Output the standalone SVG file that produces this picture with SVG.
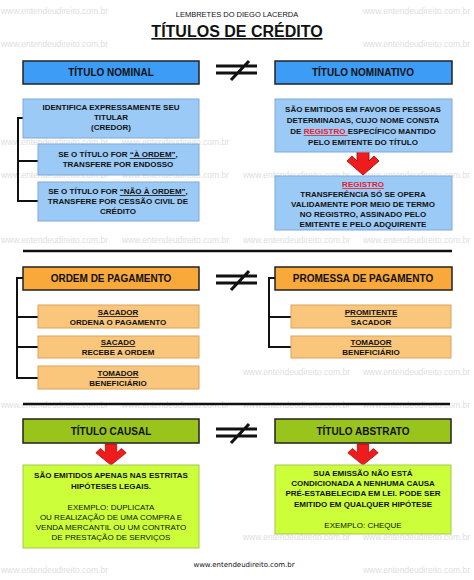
<svg xmlns="http://www.w3.org/2000/svg" width="474" height="580" viewBox="0 0 474 580">
<style>
text{font-family:"Liberation Sans",Arial,sans-serif;}
.wm{font-size:8.5px;fill:#dedede;}
.hb{fill:#3d9cf6;stroke:#222;stroke-width:1.5;}
.lb{fill:#9ccaf7;stroke:#7fa9d8;stroke-width:1;}
.ho{fill:#f9a83a;stroke:#222;stroke-width:1.5;}
.lo{fill:#f9c67c;stroke:#d9a55a;stroke-width:1;}
.hg{fill:#99c41c;stroke:#222;stroke-width:1.5;}
.lg{fill:#ccff3a;stroke:#a8c850;stroke-width:1;}
.ht{font-size:10px;font-weight:bold;fill:#111;text-anchor:middle;}
.bt{font-size:8px;font-weight:bold;fill:#111;text-anchor:middle;}
.nt{font-size:8px;fill:#111;text-anchor:middle;}
.u{text-decoration:underline;}
.red{fill:#e3202a;}
.br{fill:none;stroke:#111;stroke-width:2;}
.sep{stroke:#111;stroke-width:2.5;}
.neq{stroke:#111;stroke-width:3;fill:none;}
.arr{fill:#ee1c1c;stroke:#a00;stroke-width:0.8;}
</style>
<defs>
<polygon id="arrow" points="-6,0 6,0 6,10 11,5 16,10 0,24 -16,10 -11,5 -6,10"/>
</defs>
<g id="watermark">
<text class="wm" x="1" y="14" textLength="107" lengthAdjust="spacingAndGlyphs">www.entendeudireito.com.br</text>
<text class="wm" x="363" y="14" textLength="107" lengthAdjust="spacingAndGlyphs">www.entendeudireito.com.br</text>
<text class="wm" x="1" y="47" textLength="107" lengthAdjust="spacingAndGlyphs">www.entendeudireito.com.br</text>
<text class="wm" x="363" y="47" textLength="107" lengthAdjust="spacingAndGlyphs">www.entendeudireito.com.br</text>
<text class="wm" x="1" y="145" textLength="107" lengthAdjust="spacingAndGlyphs">www.entendeudireito.com.br</text>
<text class="wm" x="122" y="145" textLength="107" lengthAdjust="spacingAndGlyphs">www.entendeudireito.com.br</text>
<text class="wm" x="1" y="178" textLength="107" lengthAdjust="spacingAndGlyphs">www.entendeudireito.com.br</text>
<text class="wm" x="122" y="178" textLength="107" lengthAdjust="spacingAndGlyphs">www.entendeudireito.com.br</text>
<text class="wm" x="243" y="178" textLength="107" lengthAdjust="spacingAndGlyphs">www.entendeudireito.com.br</text>
<text class="wm" x="363" y="178" textLength="107" lengthAdjust="spacingAndGlyphs">www.entendeudireito.com.br</text>
<text class="wm" x="1" y="243" textLength="107" lengthAdjust="spacingAndGlyphs">www.entendeudireito.com.br</text>
<text class="wm" x="122" y="243" textLength="107" lengthAdjust="spacingAndGlyphs">www.entendeudireito.com.br</text>
<text class="wm" x="243" y="243" textLength="107" lengthAdjust="spacingAndGlyphs">www.entendeudireito.com.br</text>
<text class="wm" x="363" y="243" textLength="107" lengthAdjust="spacingAndGlyphs">www.entendeudireito.com.br</text>
<text class="wm" x="243" y="375" textLength="107" lengthAdjust="spacingAndGlyphs">www.entendeudireito.com.br</text>
<text class="wm" x="363" y="375" textLength="107" lengthAdjust="spacingAndGlyphs">www.entendeudireito.com.br</text>
<text class="wm" x="1" y="408" textLength="107" lengthAdjust="spacingAndGlyphs">www.entendeudireito.com.br</text>
<text class="wm" x="122" y="408" textLength="107" lengthAdjust="spacingAndGlyphs">www.entendeudireito.com.br</text>
<text class="wm" x="243" y="408" textLength="107" lengthAdjust="spacingAndGlyphs">www.entendeudireito.com.br</text>
<text class="wm" x="363" y="408" textLength="107" lengthAdjust="spacingAndGlyphs">www.entendeudireito.com.br</text>
<text class="wm" x="243" y="540" textLength="107" lengthAdjust="spacingAndGlyphs">www.entendeudireito.com.br</text>
<text class="wm" x="363" y="540" textLength="107" lengthAdjust="spacingAndGlyphs">www.entendeudireito.com.br</text>
<text class="wm" x="1" y="573" textLength="107" lengthAdjust="spacingAndGlyphs">www.entendeudireito.com.br</text>
<text class="wm" x="363" y="573" textLength="107" lengthAdjust="spacingAndGlyphs">www.entendeudireito.com.br</text>
</g>
<g id="title">
<text x="237" y="17" style="font-size:7.5px;fill:#111;text-anchor:middle;">LEMBRETES DO DIEGO LACERDA</text>
<text x="237" y="37" class="u" style="font-size:16px;font-weight:bold;fill:#111;text-anchor:middle;">TÍTULOS DE CRÉDITO</text>
</g>
<g id="connectors">
<polyline class="br" points="23,118 18,118 18,201 38,201"/>
<line class="br" x1="18" y1="161" x2="38" y2="161"/>
<polyline class="br" points="23,278 17,278 17,378 38,378"/>
<line class="br" x1="17" y1="317" x2="38" y2="317"/>
<line class="br" x1="17" y1="347" x2="38" y2="347"/>
<polyline class="br" points="275,278 269,278 269,347 291,347"/>
<line class="br" x1="269" y1="317" x2="291" y2="317"/>
<line class="sep" x1="23" y1="251" x2="452" y2="251"/>
<line class="sep" x1="23" y1="404" x2="450" y2="404"/>
<use href="#arrow" class="arr" transform="translate(363,151)"/>
<use href="#arrow" class="arr" transform="translate(111,444) scale(0.95,0.88)"/>
<use href="#arrow" class="arr" transform="translate(363,444) scale(0.95,0.88)"/>
</g>
<g id="neq1"><path class="neq" d="M216,66H257M216,73H257M231,80L249,61"/></g>
<g id="neq2"><path class="neq" d="M216,276H257M216,283H257M231,290L249,271"/></g>
<g id="neq3"><path class="neq" d="M216,429H257M216,436H257M231,443L249,424"/></g>
<g id="titulo-nominal">
<rect class="hb" x="23" y="61" width="176" height="23"/>
<text class="ht" x="111" y="76">TÍTULO NOMINAL</text>
</g>
<g id="titulo-nominativo">
<rect class="hb" x="275" y="61" width="177" height="23"/>
<text class="ht" x="363" y="76">TÍTULO NOMINATIVO</text>
</g>
<g id="identifica">
<rect class="lb" x="23" y="99" width="176" height="39"/>
<text class="bt" x="111" y="110">IDENTIFICA EXPRESSAMENTE SEU</text>
<text class="bt" x="111" y="120">TITULAR</text>
<text class="bt" x="111" y="130">(CREDOR)</text>
</g>
<g id="a-ordem">
<rect class="lb" x="38" y="144" width="161" height="31"/>
<text class="bt" x="118" y="157">SE O TÍTULO FOR <tspan class="u">“À ORDEM”</tspan>,</text>
<text class="bt" x="118" y="167">TRANSFERE POR ENDOSSO</text>
</g>
<g id="nao-a-ordem">
<rect class="lb" x="38" y="182" width="161" height="39"/>
<text class="bt" x="118" y="194">SE O TÍTULO FOR <tspan class="u">“NÃO À ORDEM”</tspan>,</text>
<text class="bt" x="118" y="204">TRANSFERE POR CESSÃO CIVIL DE</text>
<text class="bt" x="118" y="214">CRÉDITO</text>
</g>
<g id="emitidos">
<rect class="lb" x="275" y="99" width="177" height="53"/>
<text class="bt" x="363" y="112">SÃO EMITIDOS EM FAVOR DE PESSOAS</text>
<text class="bt" x="363" y="123">DETERMINADAS, CUJO NOME CONSTA</text>
<text class="bt" x="363" y="134">DE <tspan class="u red">REGISTRO </tspan>ESPECÍFICO MANTIDO</text>
<text class="bt" x="363" y="145">PELO EMITENTE DO TÍTULO</text>
</g>
<g id="registro">
<rect class="lb" x="275" y="176" width="177" height="54"/>
<text class="bt u red" x="363" y="187">REGISTRO</text>
<text class="bt" x="363" y="197">TRANSFERÊNCIA SÓ SE OPERA</text>
<text class="bt" x="363" y="207">VALIDAMENTE  POR MEIO DE TERMO</text>
<text class="bt" x="363" y="217">NO REGISTRO, ASSINADO PELO</text>
<text class="bt" x="363" y="227">EMITENTE E PELO ADQUIRENTE</text>
</g>
<g id="ordem-pagamento">
<rect class="ho" x="23" y="267" width="176" height="23"/>
<text class="ht" x="111" y="282">ORDEM DE PAGAMENTO</text>
</g>
<g id="promessa-pagamento">
<rect class="ho" x="275" y="267" width="177" height="23"/>
<text class="ht" x="363" y="282">PROMESSA DE PAGAMENTO</text>
</g>
<g id="sacador">
<rect class="lo" x="38" y="305" width="161" height="23"/>
<text class="bt u" x="118" y="315">SACADOR</text>
<text class="bt" x="118" y="325">ORDENA O PAGAMENTO</text>
</g>
<g id="sacado">
<rect class="lo" x="38" y="336" width="161" height="22"/>
<text class="bt u" x="118" y="345">SACADO</text>
<text class="bt" x="118" y="355">RECEBE A ORDEM</text>
</g>
<g id="tomador1">
<rect class="lo" x="38" y="366" width="161" height="23"/>
<text class="bt u" x="118" y="376">TOMADOR</text>
<text class="bt" x="118" y="386">BENEFICIÁRIO</text>
</g>
<g id="promitente">
<rect class="lo" x="291" y="305" width="160" height="23"/>
<text class="bt u" x="371" y="315">PROMITENTE</text>
<text class="bt" x="371" y="325">SACADOR</text>
</g>
<g id="tomador2">
<rect class="lo" x="291" y="336" width="160" height="22"/>
<text class="bt u" x="371" y="345">TOMADOR</text>
<text class="bt" x="371" y="355">BENEFICIÁRIO</text>
</g>
<g id="titulo-causal">
<rect class="hg" x="23" y="419" width="176" height="24"/>
<text class="ht" x="111" y="435">TÍTULO CAUSAL</text>
</g>
<g id="titulo-abstrato">
<rect class="hg" x="275" y="419" width="176" height="24"/>
<text class="ht" x="363" y="435">TÍTULO ABSTRATO</text>
</g>
<g id="causal-desc">
<rect class="lg" x="23" y="465" width="176" height="83"/>
<text class="bt" x="111" y="478">SÃO EMITIDOS APENAS NAS ESTRITAS</text>
<text class="bt" x="111" y="489">HIPÓTESES LEGAIS.</text>
<text class="nt" x="111" y="510">EXEMPLO: DUPLICATA</text>
<text class="nt" x="111" y="520">OU REALIZAÇÃO DE UMA COMPRA E</text>
<text class="nt" x="111" y="530">VENDA MERCANTIL OU UM CONTRATO</text>
<text class="nt" x="111" y="540">DE PRESTAÇÃO DE SERVIÇOS</text>
</g>
<g id="abstrato-desc">
<rect class="lg" x="275" y="465" width="176" height="69"/>
<text class="bt" x="363" y="476">SUA EMISSÃO NÃO ESTÁ</text>
<text class="bt" x="363" y="486">CONDICIONADA A NENHUMA CAUSA</text>
<text class="bt" x="363" y="496">PRÉ-ESTABELECIDA EM LEI. PODE SER</text>
<text class="bt" x="363" y="507">EMITIDO EM QUALQUER HIPÓTESE</text>
<text class="nt" x="363" y="528">EXEMPLO: CHEQUE</text>
</g>
<g id="footer">
<text x="244" y="567" style="font-size:7px;fill:#111;text-anchor:middle;font-family:'DejaVu Sans',sans-serif;">www.entendeudireito.com.br</text>
</g>
</svg>
